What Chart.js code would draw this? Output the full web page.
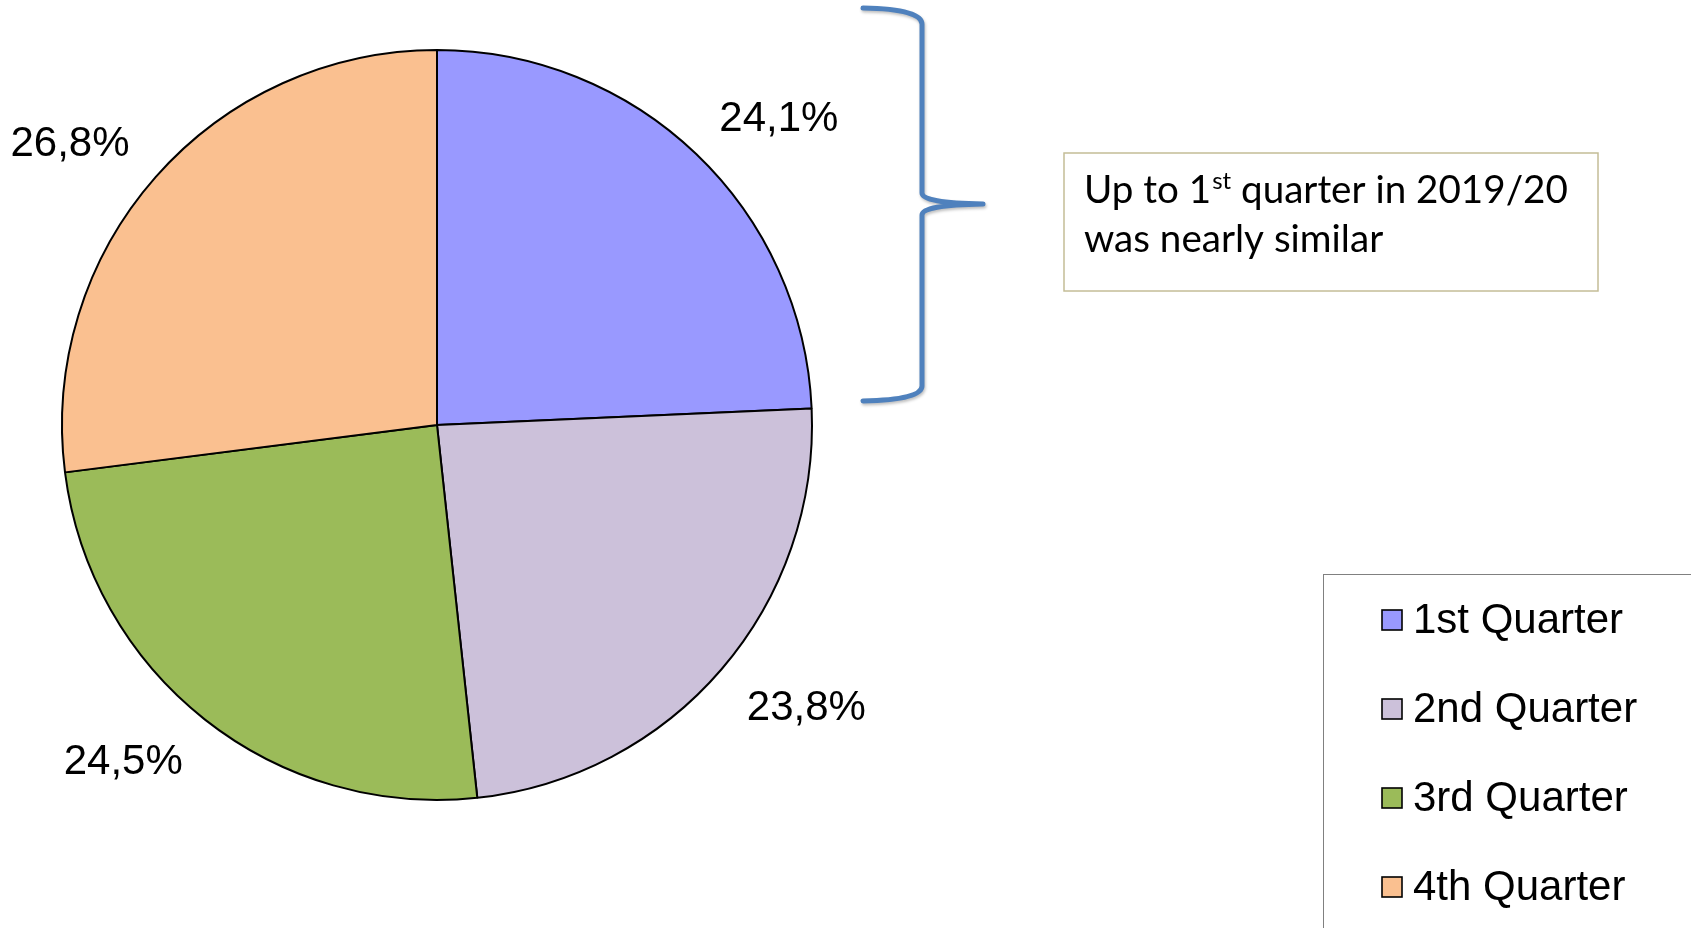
<!DOCTYPE html>
<html>
<head>
<meta charset="utf-8">
<script src="https://cdn.jsdelivr.net/npm/chart.js@4/dist/chart.umd.min.js"></script>
<style>
  html, body { margin: 0; padding: 0; background: #ffffff; }
  canvas { display: block; }
</style>
</head>
<body>
<canvas id="c" width="1691" height="928"></canvas>
<script>
// ---- data ----
const categories = ['1st Quarter', '2nd Quarter', '3rd Quarter', '4th Quarter'];
const shares = [24.1, 23.8, 24.5, 26.8];
const sliceColors = ['#9999FF', '#CCC1DA', '#9BBB59', '#FAC090'];
const noteLine1 = ['Up to 1', 'st', ' quarter in 2019/20'];
const noteLine2 = 'was nearly similar';

function fmt(v) { return v.toFixed(1).replace('.', ',') + '%'; }

const overlay = {
  id: 'overlay',
  afterDatasetsDraw(chart) {
    const ctx = chart.ctx;
    const meta = chart.getDatasetMeta(0);
    // value labels outside the pie
    ctx.save();
    ctx.fillStyle = '#000';
    ctx.font = '42px "Liberation Sans", Arial, sans-serif';
    meta.data.forEach((arc, i) => {
      const mid = (arc.startAngle + arc.endAngle) / 2;
      const r = arc.outerRadius + 32;
      const dx = Math.cos(mid), dy = Math.sin(mid);
      const px = arc.x + r * dx, py = arc.y + r * dy;
      const txt = fmt(shares[i]);
      ctx.textAlign = dx >= 0 ? 'left' : 'right';
      ctx.textBaseline = 'alphabetic';
      const y = dy < 0 ? py : py + 30;
      ctx.fillText(txt, px + (dx >= 0 ? 1 : -2), y);
    });
    ctx.restore();

    // legend box
    ctx.save();
    ctx.strokeStyle = '#808080';
    ctx.lineWidth = 1;
    ctx.strokeRect(1323.5, 574.5, 600, 600);
    ctx.font = '42px "Liberation Sans", Arial, sans-serif';
    ctx.textAlign = 'left';
    ctx.textBaseline = 'middle';
    categories.forEach((name, i) => {
      const cy = 620 + i * 89;
      ctx.fillStyle = sliceColors[i];
      ctx.fillRect(1382, cy - 10, 20, 20);
      ctx.strokeStyle = '#000';
      ctx.lineWidth = 1.6;
      ctx.strokeRect(1382, cy - 10, 20, 20);
      ctx.fillStyle = '#000';
      ctx.fillText(name, 1413, cy + 1);
    });
    ctx.restore();

    // brace
    ctx.save();
    ctx.strokeStyle = '#4F81BD';
    ctx.lineWidth = 5;
    ctx.lineCap = 'round';
    ctx.lineJoin = 'round';
    ctx.shadowColor = 'rgba(0,0,0,0.25)';
    ctx.shadowBlur = 3;
    ctx.shadowOffsetX = 1;
    ctx.shadowOffsetY = 2;
    ctx.beginPath();
    ctx.moveTo(863, 8);
    ctx.quadraticCurveTo(922, 9, 922, 24);
    ctx.lineTo(922, 193);
    ctx.quadraticCurveTo(922, 203, 983, 204);
    ctx.moveTo(983, 204);
    ctx.quadraticCurveTo(922, 205, 922, 215);
    ctx.lineTo(922, 386);
    ctx.quadraticCurveTo(922, 400, 863, 401);
    ctx.stroke();
    ctx.restore();

    // note box
    ctx.save();
    ctx.fillStyle = '#fff';
    ctx.fillRect(1064, 153, 534, 138);
    ctx.strokeStyle = '#C4BD97';
    ctx.lineWidth = 1.5;
    ctx.strokeRect(1064, 153, 534, 138);
    const fam = 'Lato, "Open Sans", sans-serif';
    let fs = 40;
    const measure = () => {
      ctx.font = fs + 'px ' + fam;
      let w = ctx.measureText(noteLine1[0]).width + ctx.measureText(noteLine1[2]).width;
      ctx.font = (fs * 0.62) + 'px ' + fam;
      w += ctx.measureText(noteLine1[1]).width;
      return w;
    };
    fs = 40 * 483 / measure();
    ctx.fillStyle = '#000';
    ctx.textAlign = 'left';
    ctx.textBaseline = 'alphabetic';
    let x = 1084;
    const b1 = 203, b2 = 252;
    ctx.font = fs + 'px ' + fam;
    ctx.fillText(noteLine1[0], x, b1);
    x += ctx.measureText(noteLine1[0]).width;
    ctx.font = (fs * 0.62) + 'px ' + fam;
    ctx.fillText(noteLine1[1], x + 1, b1 - fs * 0.36);
    x += ctx.measureText(noteLine1[1]).width + 1;
    ctx.font = fs + 'px ' + fam;
    ctx.fillText(noteLine1[2], x, b1);
    ctx.fillText(noteLine2, 1084, b2);
    ctx.restore();
  }
};

new Chart(document.getElementById('c'), {
  type: 'pie',
  data: {
    labels: categories,
    datasets: [{
      data: shares,
      backgroundColor: sliceColors,
      borderColor: '#000000',
      borderWidth: 2
    }]
  },
  options: {
    responsive: false,
    devicePixelRatio: 1,
    animation: false,
    radius: 375,
    layout: { padding: { left: 0, top: 0, right: 817, bottom: 78 } },
    plugins: {
      legend: { display: false },
      tooltip: { enabled: false },
      title: { display: false }
    }
  },
  plugins: [overlay]
});
</script>
</body>
</html>
